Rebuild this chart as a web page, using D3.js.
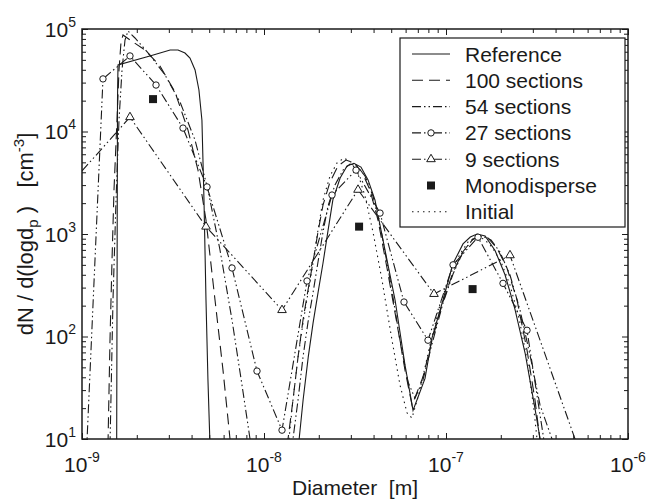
<!DOCTYPE html>
<html>
<head>
<meta charset="utf-8">
<script src="https://cdn.jsdelivr.net/npm/d3@7"></script>
<style>
    body { margin: 0; background: #fff; }
    svg { display: block; font-family: "Liberation Sans", Arial, sans-serif; }
</style>
</head>
<body>
<svg id="chart" width="648" height="502"></svg>
<script>
// diameter [m], dN/dlogdp [cm-3]
let reference = [
    [1.55e-9, 6.2], [1.567e-9, 20300], [1.577e-9, 44600], [2.36e-9, 54600], [3.05e-9, 62400],
    [3.37e-9, 62400], [3.68e-9, 58300], [3.92e-9, 52100], [4.18e-9, 39800], [4.39e-9, 25400],
    [4.56e-9, 12900], [4.68e-9, 2150], [4.80e-9, 227], [4.92e-9, 38], [5.05e-9, 8.7],
    [5.3e-9, 1], [1.45e-8, 1],
    [1.52e-8, 7.8], [1.56e-8, 10], [1.64e-8, 24], [1.75e-8, 63], [1.86e-8, 135], [1.98e-8, 266],
    [2.11e-8, 521], [2.25e-8, 1090], [2.39e-8, 2150], [2.62e-8, 3520], [2.86e-8, 4610],
    [3.12e-8, 4900], [3.41e-8, 4500], [3.73e-8, 3370], [4.07e-8, 2150], [4.62e-8, 700],
    [5.25e-8, 227], [5.95e-8, 53], [6.59e-8, 19], [7.67e-8, 39], [8.38e-8, 97], [9.63e-8, 227],
    [1.09e-7, 510], [1.24e-7, 800], [1.36e-7, 935], [1.48e-7, 1000], [1.64e-7, 955],
    [1.86e-7, 690], [2.11e-7, 400], [2.39e-7, 186], [2.72e-7, 69], [3.08e-7, 20], [3.29e-7, 10],
    [3.41e-7, 7]
];

let sections100 = [
    [1.389e-9, 8.7], [1.425e-9, 92], [1.462e-9, 557], [1.499e-9, 2690], [1.557e-9, 12900],
    [1.597e-9, 39800], [1.638e-9, 74700], [1.68e-9, 87400], [1.835e-9, 78100], [2.219e-9, 62400],
    [2.683e-9, 43500], [3.243e-9, 24300], [3.823e-9, 10300], [4.338e-9, 4210], [4.8e-9, 1370],
    [5.381e-9, 227], [5.953e-9, 47], [6.505e-9, 10], [6.756e-9, 6.2],
    [7e-9, 1], [1.28e-8, 1],
    [1.305e-8, 7.8], [1.355e-8, 10], [1.443e-8, 24], [1.538e-8, 63], [1.638e-8, 145],
    [1.745e-8, 284], [1.859e-8, 533], [1.98e-8, 1046], [2.11e-8, 1918], [2.305e-8, 3215],
    [2.55e-8, 4607], [2.821e-8, 5272], [3.122e-8, 4929], [3.455e-8, 4027], [3.822e-8, 2690],
    [4.23e-8, 1370], [4.741e-8, 466], [5.313e-8, 151], [5.953e-8, 47], [6.504e-8, 21.5],
    [6.842e-8, 26.9], [7.473e-8, 40.3], [8.378e-8, 92], [9.507e-8, 203], [1.079e-7, 398],
    [1.224e-7, 653], [1.39e-7, 874], [1.538e-7, 956], [1.701e-7, 914], [1.906e-7, 730],
    [2.163e-7, 466], [2.456e-7, 227], [2.787e-7, 73.8], [3.083e-7, 24], [3.285e-7, 9.8],
    [3.412e-7, 6.2]
];

let sections54 = [
    [1.425e-9, 8.7], [1.48e-9, 227], [1.538e-9, 2150], [1.597e-9, 12900], [1.659e-9, 39800],
    [1.723e-9, 78100], [1.789e-9, 95500], [1.955e-9, 81700], [2.363e-9, 55700], [2.858e-9, 35600],
    [3.455e-9, 19400], [4.177e-9, 8260], [4.923e-9, 2690], [5.731e-9, 698], [6.672e-9, 145],
    [7.57e-9, 33.6], [8.38e-9, 10], [8.7e-9, 6.2],
    [9e-9, 1], [1.35e-8, 1],
    [1.39e-8, 7.8], [1.443e-8, 10], [1.538e-8, 24], [1.638e-8, 63], [1.745e-8, 138],
    [1.859e-8, 266], [1.98e-8, 533], [2.11e-8, 1046], [2.247e-8, 1875], [2.455e-8, 3008],
    [2.718e-8, 4207], [2.969e-8, 4820], [3.243e-8, 4607], [3.589e-8, 3681], [3.971e-8, 2350],
    [4.449e-8, 977], [4.986e-8, 318], [5.588e-8, 92], [6.183e-8, 36], [6.755e-8, 25],
    [7.473e-8, 37.7], [8.484e-8, 92], [9.627e-8, 212], [1.093e-7, 407], [1.24e-7, 667],
    [1.408e-7, 893], [1.577e-7, 956], [1.767e-7, 874], [1.98e-7, 667], [2.247e-7, 398],
    [2.551e-7, 181], [2.894e-7, 66], [3.285e-7, 21.5], [3.823e-7, 10], [3.97e-7, 6.2]
];

let sections27 = [
    [0.951e-9, 0.1], [1.304e-9, 32600], [1.835e-9, 54600], [2.551e-9, 28400], [3.589e-9, 10800],
    [4.863e-9, 2880], [6.672e-9, 466], [9.153e-9, 46], [1.256e-8, 12.2], [1.723e-8, 348],
    [2.364e-8, 2400], [3.203e-8, 4200], [4.34e-8, 1600], [5.878e-8, 217], [7.963e-8, 92],
    [1.093e-7, 500], [1.499e-7, 930], [2.057e-7, 330], [2.787e-7, 115], [3.823e-7, 3]
];

let sections9 = [
    [0.702e-9, 2040], [1.835e-9, 13800], [4.8e-9, 1180], [1.256e-8, 181], [3.285e-8, 2700],
    [8.59e-8, 260], [2.247e-7, 620], [5.875e-7, 5]
];

let monodisperse = [
    [2.456e-9, 20700], [3.33e-8, 1180], [1.4e-7, 290]
];

let initial = [
    [1.338e-8, 7.8], [1.372e-8, 10], [1.443e-8, 24], [1.538e-8, 63], [1.638e-8, 135],
    [1.745e-8, 266], [1.859e-8, 521], [1.98e-8, 1094], [2.11e-8, 2148], [2.305e-8, 3681],
    [2.518e-8, 4929], [2.752e-8, 5508], [3.006e-8, 5039], [3.285e-8, 3846], [3.589e-8, 2350],
    [3.971e-8, 1046], [4.449e-8, 356], [5.05e-8, 92], [5.588e-8, 33.6], [6.105e-8, 18],
    [6.504e-8, 16], [7.196e-8, 30], [8.168e-8, 83], [9.268e-8, 203], [1.052e-7, 398],
    [1.194e-7, 638], [1.321e-7, 835], [1.462e-7, 935], [1.618e-7, 893], [1.789e-7, 747],
    [2.006e-7, 533], [2.247e-7, 318], [2.519e-7, 151], [2.822e-7, 53], [3.045e-7, 19],
    [3.162e-7, 10], [3.245e-7, 6.2]
];

let xMajor = [1e-9, 1e-8, 1e-7, 1e-6];
let xExp = ["-9", "-8", "-7", "-6"];
let yMajor = [1e1, 1e2, 1e3, 1e4, 1e5];
let yExp = ["1", "2", "3", "4", "5"];

let legendNames = ["Reference", "100 sections", "54 sections", "27 sections", "9 sections", "Monodisperse", "Initial"];

const ink = "#1a1a1a";
const dashed = "11,6";
const dashDot = "9,3,1.5,3,1.5,3";
const dotted = "1.5,4";

// plot box
let margin = { left: 82, right: 20, top: 29, bottom: 63 };
let width = 648 - margin.left - margin.right,
    height = 502 - margin.top - margin.bottom;

let svg = d3.select("#chart");

let x = d3.scaleLog().domain([1e-9, 1e-6]).range([margin.left, margin.left + width]);
let y = d3.scaleLog().domain([10, 1e5]).range([margin.top + height, margin.top]);

svg.append("defs").append("clipPath").attr("id", "plotclip")
    .append("rect")
    .attr("x", margin.left).attr("y", margin.top)
    .attr("width", width).attr("height", height);

// minor tick values
function minors(lo, hi) {
    let out = [];
    for (let e = lo; e < hi; e++) {
        for (let m = 2; m <= 9; m++) out.push(m * Math.pow(10, e));
    }
    return out;
}
let xMinor = minors(-9, -6);
let yMinor = minors(1, 5);

function tickAxis(axis, transform, len, vals) {
    let g = svg.append("g")
        .attr("transform", transform)
        .call(axis.tickValues(vals).tickSize(len).tickFormat(""));
    g.select(".domain").remove();
    g.selectAll("line").attr("stroke", ink).attr("stroke-width", 1);
}

let bottomY = margin.top + height, rightX = margin.left + width;
tickAxis(d3.axisBottom(x), `translate(0,${bottomY})`, -6, xMajor);
tickAxis(d3.axisBottom(x), `translate(0,${bottomY})`, -4, xMinor);
tickAxis(d3.axisTop(x), `translate(0,${margin.top})`, -6, xMajor);
tickAxis(d3.axisTop(x), `translate(0,${margin.top})`, -4, xMinor);
tickAxis(d3.axisLeft(y), `translate(${margin.left},0)`, -6, yMajor);
tickAxis(d3.axisLeft(y), `translate(${margin.left},0)`, -4, yMinor);
tickAxis(d3.axisRight(y), `translate(${rightX},0)`, -6, yMajor);
tickAxis(d3.axisRight(y), `translate(${rightX},0)`, -4, yMinor);

// frame
svg.append("rect")
    .attr("x", margin.left).attr("y", margin.top)
    .attr("width", width).attr("height", height)
    .attr("fill", "none").attr("stroke", ink).attr("stroke-width", 1.5);

// tick labels
xMajor.forEach(function (v, i) {
    let t = svg.append("text")
        .attr("x", x(v)).attr("y", bottomY + 33)
        .attr("text-anchor", "middle")
        .attr("font-size", 21).attr("fill", ink);
    t.append("tspan").text("10");
    t.append("tspan").attr("font-size", 14).attr("dy", -10).text(xExp[i]);
});
yMajor.forEach(function (v, i) {
    let t = svg.append("text")
        .attr("x", margin.left - 6).attr("y", y(v) + 7.5)
        .attr("text-anchor", "end")
        .attr("font-size", 21).attr("fill", ink);
    t.append("tspan").text("10");
    t.append("tspan").attr("font-size", 14).attr("dy", -10).text(yExp[i]);
});

// axis titles
svg.append("text")
    .attr("x", margin.left + width / 2).attr("y", 495)
    .attr("text-anchor", "middle").attr("font-size", 21).attr("fill", ink)
    .text("Diameter\u00a0\u00a0[m]");

let ylab = svg.append("text")
    .attr("transform", `translate(33,${margin.top + height / 2}) rotate(-90)`)
    .attr("text-anchor", "middle").attr("font-size", 22).attr("fill", ink);
ylab.append("tspan").text("dN / d(logd");
ylab.append("tspan").attr("font-size", 15).attr("dy", 5).text("p");
ylab.append("tspan").attr("dy", -5).text("\u00a0)\u00a0\u00a0\u00a0[cm");
ylab.append("tspan").attr("font-size", 15).attr("dy", -9).text("-3");
ylab.append("tspan").attr("dy", 9).text("]");

// curves
let line = d3.line()
    .x(function (d) { return x(d[0]); })
    .y(function (d) { return y(d[1]); });

let plot = svg.append("g").attr("clip-path", "url(#plotclip)");

function drawLine(data, dash) {
    plot.append("path")
        .datum(data)
        .attr("d", line)
        .attr("fill", "none")
        .attr("stroke", ink)
        .attr("stroke-width", 1.1)
        .attr("stroke-dasharray", dash);
}

drawLine(initial, dotted);
drawLine(reference, null);
drawLine(sections100, dashed);
drawLine(sections54, dashDot);
drawLine(sections27, dashDot);
drawLine(sections9, dashDot);

function inside(d) {
    return d[0] >= 1e-9 && d[0] <= 1e-6 && d[1] >= 10 && d[1] <= 1e5;
}

plot.selectAll("circle.s27")
    .data(sections27.filter(inside))
    .enter().append("circle")
    .attr("class", "s27")
    .attr("cx", function (d) { return x(d[0]); })
    .attr("cy", function (d) { return y(d[1]); })
    .attr("r", 3.2)
    .attr("fill", "#fff").attr("stroke", ink).attr("stroke-width", 1);

let tri = d3.symbol().type(d3.symbolTriangle).size(32);
plot.selectAll("path.s9")
    .data(sections9.filter(inside))
    .enter().append("path")
    .attr("class", "s9")
    .attr("transform", function (d) { return `translate(${x(d[0])},${y(d[1])})`; })
    .attr("d", tri)
    .attr("fill", "#fff").attr("stroke", ink).attr("stroke-width", 1);

plot.selectAll("rect.mono")
    .data(monodisperse)
    .enter().append("rect")
    .attr("class", "mono")
    .attr("x", function (d) { return x(d[0]) - 4; })
    .attr("y", function (d) { return y(d[1]) - 4; })
    .attr("width", 8).attr("height", 8)
    .attr("fill", ink);

// legend
let lg = svg.append("g");
lg.append("rect")
    .attr("x", 400).attr("y", 38).attr("width", 225).attr("height", 189)
    .attr("fill", "#fff").attr("stroke", ink).attr("stroke-width", 1.2);

let legendDash = [null, dashed, dashDot, dashDot, dashDot, "none", dotted];
legendNames.forEach(function (name, i) {
    let cy = 54 + i * 26.3;
    if (legendDash[i] !== "none") {
        lg.append("line")
            .attr("x1", 412).attr("x2", 450).attr("y1", cy).attr("y2", cy)
            .attr("stroke", ink).attr("stroke-width", 1.1)
            .attr("stroke-dasharray", legendDash[i]);
    }
    if (i === 3) {
        lg.append("circle").attr("cx", 431).attr("cy", cy).attr("r", 3.2)
            .attr("fill", "#fff").attr("stroke", ink);
    }
    if (i === 4) {
        lg.append("path").attr("transform", `translate(431,${cy})`).attr("d", tri)
            .attr("fill", "#fff").attr("stroke", ink);
    }
    if (i === 5) {
        lg.append("rect").attr("x", 427).attr("y", cy - 4)
            .attr("width", 8).attr("height", 8).attr("fill", ink);
    }
    lg.append("text")
        .attr("x", 465).attr("y", cy + 7.5)
        .attr("font-size", 21).attr("fill", ink)
        .text(name);
});
</script>
</body>
</html>
